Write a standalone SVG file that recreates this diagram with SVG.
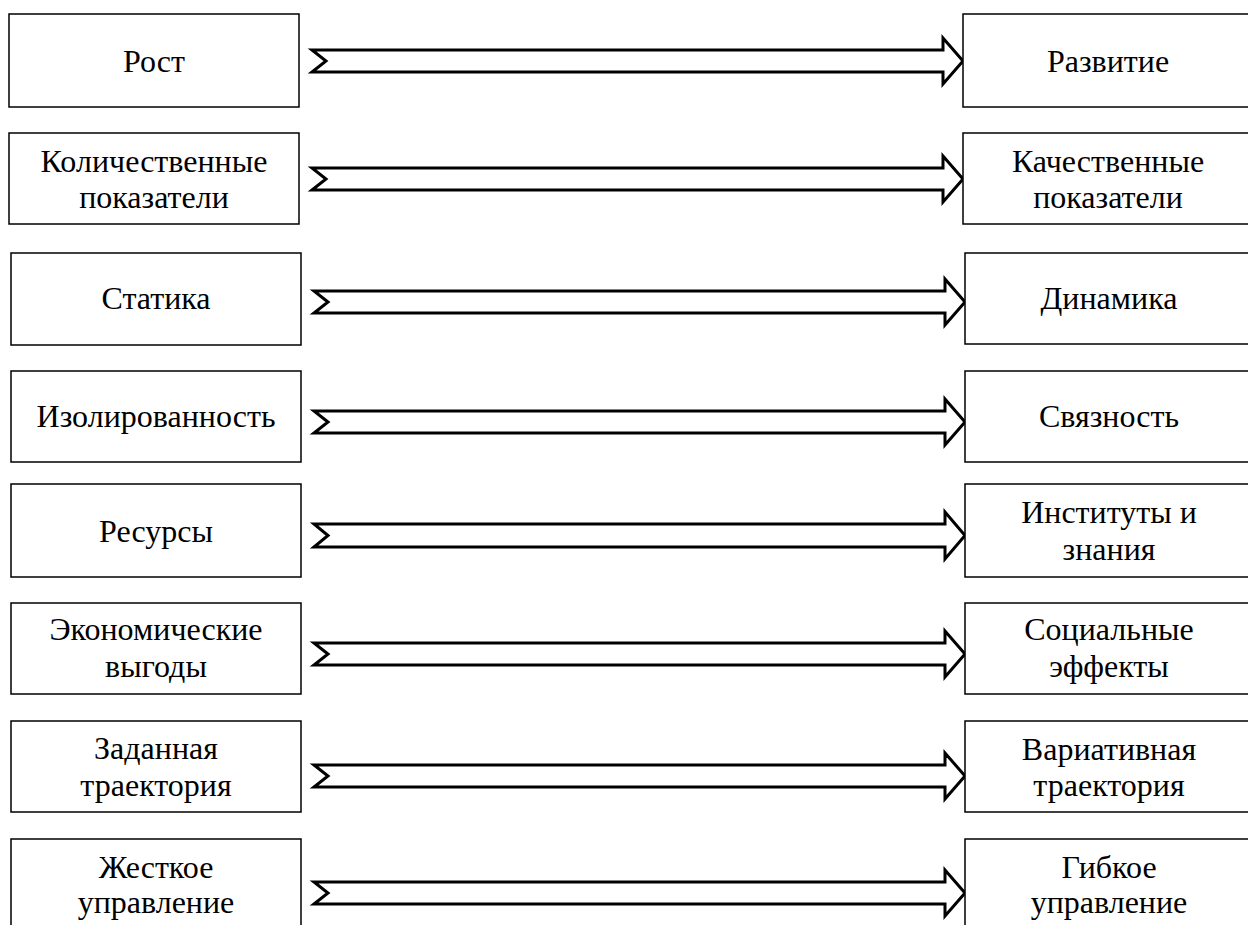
<svg xmlns="http://www.w3.org/2000/svg" width="1248" height="925" viewBox="0 0 1248 925">
<style>
.box{fill:#fff;stroke:#000;stroke-width:1.5}
.arr{fill:#fff;stroke:#000;stroke-width:3;stroke-linejoin:miter}
.lbl{font-family:"Liberation Serif","Times New Roman",serif;font-size:32px;fill:#000;text-anchor:middle}
</style>
<rect width="1248" height="925" fill="#fff"/>
<g id="connectors">
<polygon class="arr" points="312,50 943,50 943,38 963,61 943,84 943,72 312,72 326,61"/>
<polygon class="arr" points="312,168 943,168 943,156 963,179 943,202 943,190 312,190 326,179"/>
<polygon class="arr" points="314,291 945,291 945,279 965,302 945,325 945,313 314,313 328,302"/>
<polygon class="arr" points="314,411 945,411 945,399 965,422 945,445 945,433 314,433 328,422"/>
<polygon class="arr" points="314,524 945,524 945,512 965,535.5 945,559 945,547 314,547 328,535.5"/>
<polygon class="arr" points="314,643 945,643 945,631 965,654 945,677 945,665 314,665 328,654"/>
<polygon class="arr" points="314,765 945,765 945,753 965,776 945,799 945,787 314,787 328,776"/>
<polygon class="arr" points="314,882 945,882 945,870 965,893 945,916 945,904 314,904 328,893"/>
</g>
<g id="n1l"><rect class="box" x="9" y="14" width="290" height="93"/><text class="lbl" x="154" y="72">Рост</text></g>
<g id="n1r"><rect class="box" x="963" y="14" width="300" height="93"/><text class="lbl" x="1108" y="72">Развитие</text></g>
<g id="n2l"><rect class="box" x="9" y="133" width="290" height="91"/><text class="lbl" x="154" y="172">Количественные</text><text class="lbl" x="154" y="208">показатели</text></g>
<g id="n2r"><rect class="box" x="963" y="133" width="300" height="91"/><text class="lbl" x="1108" y="172">Качественные</text><text class="lbl" x="1108" y="208">показатели</text></g>
<g id="n3l"><rect class="box" x="11" y="253" width="290" height="92"/><text class="lbl" x="156" y="309">Статика</text></g>
<g id="n3r"><rect class="box" x="965" y="253" width="300" height="91"/><text class="lbl" x="1109" y="309">Динамика</text></g>
<g id="n4l"><rect class="box" x="11" y="371" width="290" height="91"/><text class="lbl" x="156" y="427">Изолированность</text></g>
<g id="n4r"><rect class="box" x="965" y="371" width="300" height="91"/><text class="lbl" x="1109" y="427">Связность</text></g>
<g id="n5l"><rect class="box" x="11" y="484" width="290" height="93"/><text class="lbl" x="156" y="542">Ресурсы</text></g>
<g id="n5r"><rect class="box" x="965" y="484" width="300" height="93"/><text class="lbl" x="1109" y="523">Институты и</text><text class="lbl" x="1109" y="560">знания</text></g>
<g id="n6l"><rect class="box" x="11" y="603" width="290" height="91"/><text class="lbl" x="156" y="640">Экономические</text><text class="lbl" x="156" y="677">выгоды</text></g>
<g id="n6r"><rect class="box" x="965" y="603" width="300" height="91"/><text class="lbl" x="1109" y="640">Социальные</text><text class="lbl" x="1109" y="677">эффекты</text></g>
<g id="n7l"><rect class="box" x="11" y="721" width="290" height="91"/><text class="lbl" x="156" y="759">Заданная</text><text class="lbl" x="156" y="796">траектория</text></g>
<g id="n7r"><rect class="box" x="965" y="721" width="300" height="91"/><text class="lbl" x="1109" y="760">Вариативная</text><text class="lbl" x="1109" y="796">траектория</text></g>
<g id="n8l"><rect class="box" x="11" y="839" width="290" height="100"/><text class="lbl" x="156" y="878">Жесткое</text><text class="lbl" x="156" y="913">управление</text></g>
<g id="n8r"><rect class="box" x="965" y="839" width="300" height="100"/><text class="lbl" x="1109" y="878">Гибкое</text><text class="lbl" x="1109" y="913">управление</text></g>
</svg>
